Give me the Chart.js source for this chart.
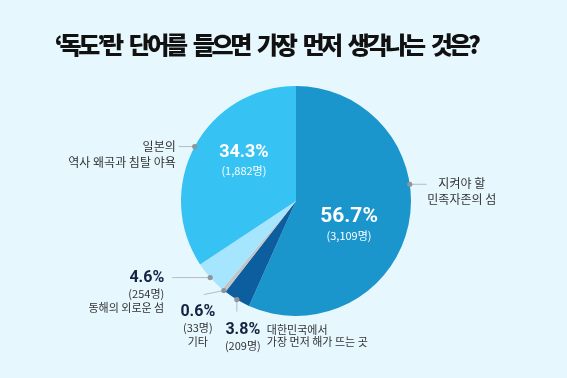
<!DOCTYPE html>
<html>
<head>
<meta charset="utf-8">
<script src="https://cdn.jsdelivr.net/npm/chart.js@4.4.1/dist/chart.umd.min.js"></script>
<style>
  html, body { margin: 0; padding: 0; background: #e6f7fe; }
  #wrap { width: 567px; height: 378px; position: relative; }
</style>
</head>
<body>
<div id="wrap"><canvas id="pieChart" width="567" height="378"></canvas></div>
<script>
// Data
const titleText = "‘독도’란 단어를 들으면 가장 먼저 생각나는 것은?";
const categories = ['지켜야 할\n민족자존의 섬', '대한민국에서\n가장 먼저 해가 뜨는 곳', '기타', '동해의 외로운 섬', '일본의\n역사 왜곡과 침탈 야욕'];
const percents = [56.7, 3.8, 0.6, 4.6, 34.3];
const counts = ['3,109', '209', '33', '254', '1,882'];
const colors = ['#1b96cd', '#0c5e9f', '#c2c4c6', '#a5e5fd', '#36c2f2'];

const navy = '#14223f';
const labelGray = '#333333';
const KR = '"Noto Sans CJK KR", "Noto Sans", sans-serif';
const NUM = 'Roboto, "Noto Sans", sans-serif';

// where each label sits: fraction along the slice, and offsets from the dot
const labelLayout = [
    { inside: true, frac: 0.52, r: 0.48, pctSize: 21, cntSize: 11,
      out: { frac: 0.40, lineTo: [17, 0], textX: 52, textY: -1, align: 'center' } },
    { frac: 0.5, lineTo: [0, 12], pct: [6, 30], align: 'center' },
    { frac: 0.5, lineTo: [-20, 4], pct: [-26, 21], align: 'center' },
    { frac: 0.5, lineTo: [-38, 0], pct: [-46, 0], align: 'right' },
    { inside: true, frac: 0.62, r: 0.62, pctSize: 18, cntSize: 11,
      out: { frac: 0.5, lineTo: [-16, 0], textX: -19, textY: 0, align: 'right' } }
];

const calloutPlugin = {
    id: 'callouts',
    afterDraw(chart) {
        const ctx = chart.ctx;
        const arcs = chart.getDatasetMeta(0).data;

        // title
        ctx.save();
        ctx.fillStyle = '#111';
        ctx.font = '900 24px ' + KR;
        ctx.textAlign = 'center';
        ctx.textBaseline = 'middle';
        ctx.letterSpacing = '-3.4px';
        ctx.wordSpacing = '6px';
        ctx.fillText(titleText, 266, 45);
        ctx.restore();

        arcs.forEach((arc, i) => {
            const L = labelLayout[i];
            const { x, y, startAngle, endAngle, outerRadius } = arc.getProps(['x', 'y', 'startAngle', 'endAngle', 'outerRadius'], true);
            const at = (frac, r) => {
                const a = startAngle + (endAngle - startAngle) * frac;
                return [x + Math.cos(a) * r, y + Math.sin(a) * r];
            };
            const drawDot = (p, q) => {
                ctx.strokeStyle = '#b4bcc2';
                ctx.lineWidth = 1;
                ctx.beginPath();
                ctx.moveTo(p[0], p[1]);
                ctx.lineTo(p[0] + q[0], p[1] + q[1]);
                ctx.stroke();
                ctx.fillStyle = '#8e969c';
                ctx.beginPath();
                ctx.arc(p[0], p[1], 2.6, 0, Math.PI * 2);
                ctx.fill();
            };
            const lines = categories[i].split('\n');
            ctx.save();
            ctx.textBaseline = 'middle';
            if (L.inside) {
                const c = at(L.frac, outerRadius * L.r);
                ctx.fillStyle = '#ffffff';
                ctx.textAlign = 'center';
                ctx.font = 'bold ' + L.pctSize + 'px ' + NUM;
                ctx.fillText(percents[i].toFixed(1) + '%', c[0], c[1]);
                ctx.font = L.cntSize + 'px ' + KR;
                ctx.fillText('(' + counts[i] + '명)', c[0], c[1] + 19);

                const p = at(L.out.frac, outerRadius);
                drawDot(p, L.out.lineTo);
                ctx.fillStyle = labelGray;
                ctx.font = '12px ' + KR;
                ctx.textAlign = L.out.align;
                lines.forEach((t, k) => {
                    ctx.fillText(t, p[0] + L.out.textX, p[1] + L.out.textY + k * 16);
                });
            } else {
                const p = at(L.frac, outerRadius);
                drawDot(p, L.lineTo);
                const tx = p[0] + L.pct[0], ty = p[1] + L.pct[1];
                ctx.fillStyle = navy;
                ctx.textAlign = L.align;
                ctx.font = 'bold 16px ' + NUM;
                ctx.fillText(percents[i].toFixed(1) + '%', tx, ty);
                ctx.fillStyle = labelGray;
                ctx.font = '11px ' + KR;
                ctx.fillText('(' + counts[i] + '명)', tx, ty + 16);
                if (i === 1) {
                    ctx.textAlign = 'left';
                    lines.forEach((t, k) => ctx.fillText(t, tx + 24, ty + k * 12));
                } else {
                    lines.forEach((t, k) => ctx.fillText(t, tx, ty + 30 + k * 14));
                }
            }
            ctx.restore();
        });
    }
};

new Chart(document.getElementById('pieChart'), {
    type: 'pie',
    data: {
        labels: categories,
        datasets: [{
            data: percents,
            backgroundColor: colors,
            borderWidth: 0
        }]
    },
    options: {
        responsive: false,
        animation: false,
        layout: { padding: { top: 86, bottom: 62, left: 181, right: 156 } },
        plugins: {
            legend: { display: false },
            tooltip: { enabled: false },
            title: { display: false }
        }
    },
    plugins: [calloutPlugin]
});
</script>
</body>
</html>
